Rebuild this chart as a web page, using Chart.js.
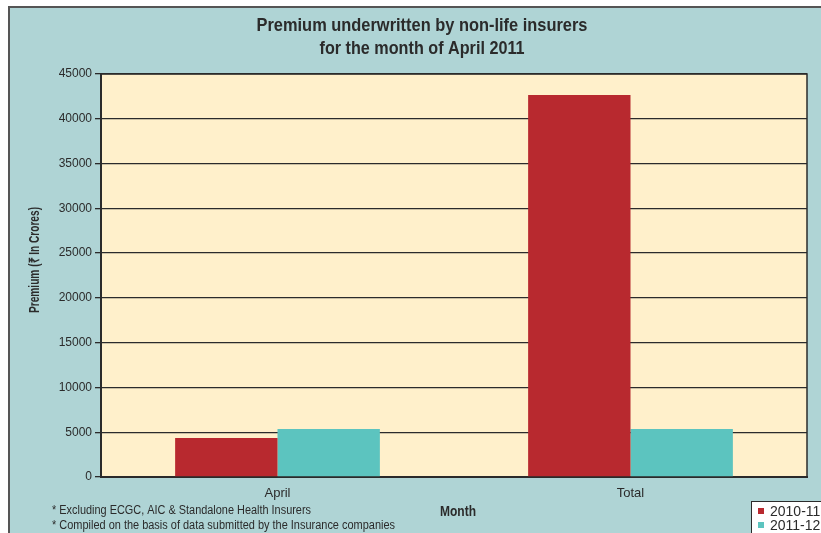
<!DOCTYPE html>
<html>
<head>
<meta charset="utf-8">
<script src="https://cdn.jsdelivr.net/npm/chart.js@4.4.0/dist/chart.umd.min.js"></script>
<style>
  html, body { margin: 0; padding: 0; background: #ffffff; }
  #wrap { width: 821px; height: 533px; }
</style>
</head>
<body>
<div id="wrap"><canvas id="chartCanvas" width="821" height="533"></canvas></div>
<script>
// 資料
const categories = ['April', 'Total'];
const seriesLabels = ['2010-11', '2011-12'];
const premium2010 = [4350, 42650];
const premium2011 = [5350, 5350];
const yTicks = [0, 5000, 10000, 15000, 20000, 25000, 30000, 35000, 40000, 45000];

const titleLines = ['Premium underwritten by non-life insurers', 'for the month of April 2011'];
const yTitle = 'Premium (\u20B9 In Crores)';
const xTitle = 'Month';
const footnotes = [
    '* Excluding ECGC, AIC & Standalone Health Insurers',
    '* Compiled on the basis of data submitted by the Insurance companies'
];

// 顏色
const colors = {
    page: '#afd4d5',
    plot: '#fff0cb',
    red: '#b8292f',
    teal: '#5cc4bf',
    ink: '#2b2b2b',
    frame: '#555555'
};
const FONT = "'Liberation Sans', Arial, sans-serif";

// 窄體字效果：依目標寬度水平縮放
function fitText(ctx, text, x, y, width, align) {
    const w = ctx.measureText(text).width;
    const s = Math.min(1, width / w);
    ctx.save();
    ctx.translate(x, y);
    ctx.scale(s, 1);
    ctx.textAlign = align;
    ctx.fillText(text, 0, 0);
    ctx.restore();
}

// 背景、標題、註腳與圖例
const decorPlugin = {
    id: 'decor',
    beforeDraw(chart) {
        const ctx = chart.ctx;
        const a = chart.chartArea;
        ctx.save();
        ctx.fillStyle = '#ffffff';
        ctx.fillRect(0, 0, chart.width, chart.height);
        ctx.fillStyle = colors.page;
        ctx.fillRect(9, 7, chart.width - 9, chart.height - 7);
        ctx.strokeStyle = colors.frame;
        ctx.lineWidth = 2;
        ctx.beginPath();
        ctx.moveTo(9, chart.height);
        ctx.lineTo(9, 7);
        ctx.lineTo(chart.width, 7);
        ctx.stroke();
        ctx.fillStyle = colors.plot;
        ctx.fillRect(a.left, a.top, a.right - a.left, a.bottom - a.top);
        ctx.restore();
    },
    beforeDatasetsDraw(chart) {
        const ctx = chart.ctx;
        const a = chart.chartArea;
        ctx.save();
        ctx.strokeStyle = colors.ink;
        ctx.lineWidth = 1.5;
        ctx.strokeRect(a.left, a.top, a.right - a.left, a.bottom - a.top);
        ctx.restore();
    },
    afterDraw(chart) {
        const ctx = chart.ctx;
        ctx.save();
        ctx.fillStyle = colors.ink;
        ctx.textBaseline = 'middle';
        ctx.font = 'bold 19px ' + FONT;
        fitText(ctx, titleLines[0], 422, 26, 331, 'center');
        fitText(ctx, titleLines[1], 422, 48.5, 205, 'center');

        // y 軸標題
        ctx.font = 'bold 14px ' + FONT;
        ctx.save();
        ctx.translate(35, 260);
        ctx.rotate(-Math.PI / 2);
        fitText(ctx, yTitle, 0, 0, 106, 'center');
        ctx.restore();

        // x 軸標題
        fitText(ctx, xTitle, 458, 512, 36, 'center');

        // 註腳
        ctx.font = '12px ' + FONT;
        fitText(ctx, footnotes[0], 52, 511, 259, 'left');
        fitText(ctx, footnotes[1], 52, 526, 343, 'left');

        // 圖例
        const lx = 751, ly = 501;
        ctx.fillStyle = '#ffffff';
        ctx.fillRect(lx, ly, chart.width - lx + 2, chart.height - ly + 2);
        ctx.strokeStyle = colors.ink;
        ctx.lineWidth = 1;
        ctx.strokeRect(lx + 0.5, ly + 0.5, chart.width - lx + 5, chart.height - ly + 5);
        ctx.font = '14px ' + FONT;
        ctx.textAlign = 'left';
        chart.data.datasets.forEach((ds, i) => {
            const cy = 511 + i * 14;
            ctx.fillStyle = ds.backgroundColor;
            ctx.fillRect(758, cy - 3, 6, 6);
            ctx.fillStyle = colors.ink;
            ctx.fillText(ds.label, 770, cy + 1);
        });
        ctx.restore();
    }
};

const chartConfig = {
    type: 'bar',
    data: {
        labels: categories,
        datasets: [
            { label: seriesLabels[0], data: premium2010, backgroundColor: colors.red },
            { label: seriesLabels[1], data: premium2011, backgroundColor: colors.teal }
        ]
    },
    options: {
        responsive: false,
        animation: false,
        devicePixelRatio: 1,
        layout: { padding: { top: 74, right: 14, left: 0, bottom: 0 } },
        categoryPercentage: 0.58,
        barPercentage: 1,
        plugins: {
            legend: { display: false },
            title: { display: false },
            tooltip: { enabled: false }
        },
        scales: {
            x: {
                grid: { display: false, drawTicks: false },
                border: { display: true, color: colors.ink, width: 2 },
                ticks: { color: colors.ink, font: { family: FONT, size: 13 }, padding: 9 },
                afterFit(scale) { scale.height = 56; }
            },
            y: {
                min: 0,
                max: 45000,
                afterBuildTicks(scale) { scale.ticks = yTicks.map(v => ({ value: v })); },
                grid: { color: colors.ink, lineWidth: 1.3, tickLength: 6, tickColor: colors.ink },
                border: { display: true, color: colors.ink, width: 2 },
                ticks: {
                    color: colors.ink,
                    font: { family: FONT, size: 12 },
                    padding: 3,
                    callback: v => String(v)
                },
                afterFit(scale) { scale.width = 101; }
            }
        }
    },
    plugins: [decorPlugin]
};

new Chart(document.getElementById('chartCanvas'), chartConfig);
</script>
</body>
</html>
